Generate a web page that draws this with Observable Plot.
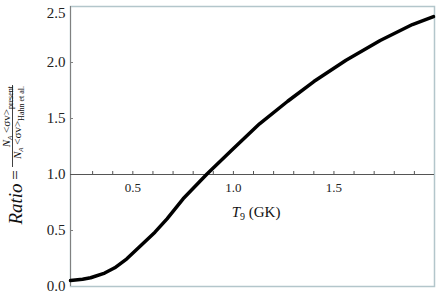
<!DOCTYPE html>
<html>
<head>
<meta charset="utf-8">
<script src="https://cdn.jsdelivr.net/npm/d3@7"></script>
<script src="https://cdn.jsdelivr.net/npm/@observablehq/plot@0.6"></script>
<style>
  html, body { margin: 0; padding: 0; background: #fff; }
  #chart { width: 436px; height: 293px; }
  #chart svg, #chart svg text { font-family: "Liberation Serif", "Times New Roman", Times, "DejaVu Serif", "Noto Serif", serif !important; }
</style>
</head>
<body>
<div id="chart"></div>
<script>
// Data
const T9 = [0.19, 0.25, 0.29, 0.36, 0.41, 0.47, 0.54, 0.61, 0.67, 0.73, 0.75, 0.87, 0.99, 1.13, 1.27, 1.40, 1.56, 1.73, 1.89, 1.995];
const ratio = [0.054, 0.065, 0.078, 0.12, 0.167, 0.247, 0.366, 0.485, 0.604, 0.738, 0.783, 1.006, 1.214, 1.453, 1.654, 1.83, 2.02, 2.196, 2.339, 2.41];
const xTickLabels = [0.5, 1.0, 1.5];
const xMinorTicks = [0.3, 0.4, 0.5, 0.6, 0.7, 0.8, 0.9, 1.0, 1.1, 1.2, 1.3, 1.4, 1.5, 1.6, 1.7, 1.8, 1.9];
const yTicks = [0, 0.5, 1.0, 1.5, 2.0, 2.5];

const xDomain = [0.19, 2.0];
const yDomain = [0, 2.5];
const W = 436, H = 293;
const mL = 70, mR = 2, mT = 6, mB = 7;
const pxPerX = (W - mL - mR) / (xDomain[1] - xDomain[0]);
const pxPerY = (H - mT - mB) / (yDomain[1] - yDomain[0]);

const data = T9.map((t, i) => ({t, r: ratio[i]}));
const serif = "Liberation Serif, Times New Roman, Times, DejaVu Serif, serif";
const frameColor = "#b3c6cb";

const plot = Plot.plot({
  width: W, height: H,
  marginLeft: mL, marginRight: mR, marginTop: mT, marginBottom: mB,
  style: {background: "#fff"},
  x: {domain: xDomain, axis: null},
  y: {domain: yDomain, axis: null},
  marks: [
    Plot.frame({stroke: frameColor, strokeWidth: 1.5}),
    Plot.ruleX([xDomain[0]], {stroke: "#808080", strokeWidth: 1}),
    Plot.ruleY(yTicks.slice(1, -1), {x1: xDomain[0], x2: xDomain[0] + 3 / pxPerX, stroke: "#808080"}),
    Plot.text(yTicks, {x: xDomain[0], y: d => d, text: d => d3.format(".1f")(d), textAnchor: "end", dx: -5,
      fontSize: 15, fill: "#222"}),
    Plot.ruleY([1], {stroke: "#555", strokeWidth: 1}),
    Plot.ruleX(xMinorTicks, {y1: 1, y2: 1 + 3 / pxPerY, stroke: "#555", strokeWidth: 1}),
    Plot.text(xTickLabels, {x: d => d, y: () => 1, text: d => d3.format(".1f")(d), dy: 13, fontSize: 13, fill: "#222"}),
    Plot.line(data, {x: "t", y: "r", stroke: "#000", strokeWidth: 3.5, strokeLinejoin: "round"})
  ]
});
document.getElementById("chart").appendChild(plot);

const svg = d3.select(plot);
// nudge the top y tick label so it stays inside the picture, as in the reference
svg.selectAll("text").filter(function() { return this.textContent === "2.5"; }).attr("dy", "0.45em");

// x label: T9 (GK)
const xl = svg.append("text")
  .attr("x", 256).attr("y", 217)
  .attr("text-anchor", "middle")
  .attr("font-family", serif).attr("font-size", 15).attr("fill", "#111");
xl.append("tspan").attr("font-style", "italic").text("T");
xl.append("tspan").attr("font-size", 10).attr("dy", 3).text("9");
xl.append("tspan").attr("dy", -3).text(" (GK)");

// y label: Ratio = fraction
const g = svg.append("g");
g.append("text")
  .attr("transform", "translate(22,204) rotate(-90)")
  .attr("text-anchor", "middle")
  .attr("font-family", serif).attr("font-size", 19).attr("font-style", "italic").attr("fill", "#111")
  .text("Ratio");
g.append("text")
  .attr("transform", "translate(21,175) rotate(-90)")
  .attr("text-anchor", "middle")
  .attr("font-family", serif).attr("font-size", 17).attr("fill", "#111")
  .text("=");
g.append("line").attr("x1", 12.5).attr("x2", 12.5).attr("y1", 85).attr("y2", 167)
  .attr("stroke", "#111").attr("stroke-width", 0.8);
function frac(x, yEnd, sub) {
  const t = g.append("text")
    .attr("transform", `translate(${x},${yEnd}) rotate(-90)`)
    .attr("text-anchor", "end")
    .attr("font-family", serif).attr("font-size", 11).attr("fill", "#111");
  t.append("tspan").attr("font-style", "italic").text("N");
  t.append("tspan").attr("font-style", "italic").attr("font-size", 7).attr("dy", 2).text("A");
  t.append("tspan").attr("dy", -2).text(" <σv>");
  t.append("tspan").attr("font-size", 8).attr("dy", 2.5).text(sub);
}
frac(10, 86, "present");
frac(21, 86, "Hahn et al.");
</script>
</body>
</html>
